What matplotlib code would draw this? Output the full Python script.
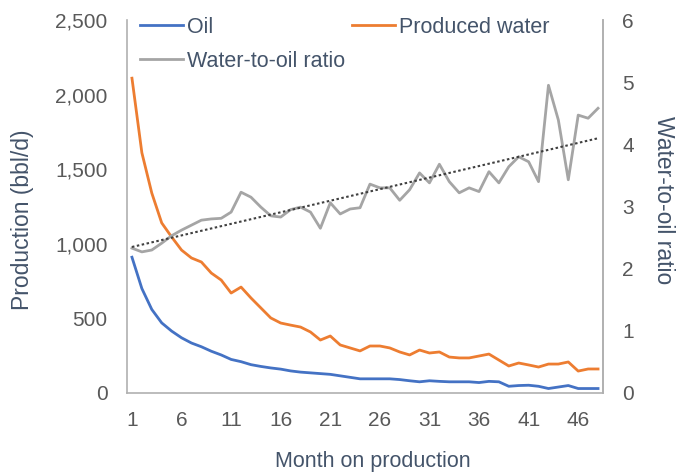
import matplotlib
matplotlib.use('Agg')
import matplotlib.pyplot as plt
import numpy as np
from matplotlib.ticker import FuncFormatter

plt.rcParams['font.family'] = ['Liberation Sans', 'DejaVu Sans']

months = list(range(1, 49))
oil = [910, 700, 560, 470, 415, 370, 335, 310, 280, 255, 225, 210, 190, 178, 168, 160,
       148, 140, 135, 130, 125, 115, 105, 95, 95, 95, 95, 90, 82, 75, 82, 78,
       75, 75, 75, 70, 78, 75, 45, 50, 52, 45, 30, 40, 50, 30, 30, 30]
water = [2110, 1610, 1340, 1140, 1046, 958, 905, 878, 804, 757, 670, 710, 637, 570, 503, 469,
         455, 442, 409, 355, 382, 322, 302, 282, 315, 315, 302, 275, 255, 288, 268, 275,
         241, 235, 235, 248, 261, 221, 181, 201, 188, 174, 194, 194, 208, 147, 161, 161]
ratio = [2.33, 2.27, 2.30, 2.41, 2.53, 2.62, 2.70, 2.78, 2.80, 2.81, 2.91, 3.23, 3.15, 2.99, 2.85, 2.83,
         2.95, 2.99, 2.91, 2.65, 3.06, 2.88, 2.96, 2.98, 3.36, 3.30, 3.30, 3.10, 3.27, 3.54, 3.38, 3.68,
         3.40, 3.22, 3.30, 3.24, 3.56, 3.38, 3.64, 3.80, 3.72, 3.40, 4.95, 4.39, 3.43, 4.47, 4.42, 4.58]
xticks = [1, 6, 11, 16, 21, 26, 31, 36, 41, 46]

tick_col = '#595959'
lab_col = '#44546A'
spine_col = '#B0B0B0'

fig = plt.figure(figsize=(6.79, 4.72), dpi=100)
ax = fig.add_axes([127/679, 1-393/472, 476/679, 373/472])
ax2 = ax.twinx()

l1, = ax.plot(months, oil, color='#4472C4', lw=2, label='Oil')
l2, = ax.plot(months, water, color='#ED7D31', lw=2, label='Produced water')
l3, = ax2.plot(months, ratio, color='#A5A5A5', lw=2, label='Water-to-oil ratio')

# linear trendline on the ratio
k, b = np.polyfit(months, ratio, 1)
m = np.array(months)
ax2.plot(m, k*m+b, color='#404040', lw=1.5, linestyle=(0, (1.2, 1.2)))

ax.set_xlim(0.5, 48.5)
ax.set_ylim(0, 2500)
ax2.set_ylim(0, 6)
ax.set_xticks(xticks)
ax.set_yticks(range(0, 2501, 500))
ax2.set_yticks(range(0, 7))
ax.yaxis.set_major_formatter(FuncFormatter(lambda v, p: '{:,.0f}'.format(v)))

for a in (ax, ax2):
    a.tick_params(length=0, labelsize=15, colors=tick_col, pad=14)
    for s in a.spines.values():
        s.set_color(spine_col)
        s.set_linewidth(1.2)
    a.spines['top'].set_visible(False)
ax.tick_params(axis='x', pad=13)
ax2.spines['left'].set_visible(False)
ax2.spines['bottom'].set_visible(False)

ax.set_xlabel('Month on production', fontsize=15.5, color=lab_col)
ax.xaxis.set_label_coords(0.517, -0.155)
ax.set_ylabel('Production (bbl/d)', fontsize=16.5, color=lab_col)
ax.yaxis.set_label_coords(-0.195, 0.464)
ax2.set_ylabel('Water-to-oil ratio', fontsize=16.5, color=lab_col, rotation=270)
ax2.yaxis.set_label_coords(1.152, 0.517)

fig.legend([l1, l3, l2], ['Oil', 'Water-to-oil ratio', 'Produced water'],
           loc='upper left', bbox_to_anchor=(140/679, 1-17/472), ncol=2,
           frameon=False, fontsize=15.5, labelcolor=lab_col, handlelength=2.0,
           handletextpad=0.2, columnspacing=0.3, labelspacing=0.6,
           borderpad=0, borderaxespad=0)

fig.savefig('out.png', dpi=100)
